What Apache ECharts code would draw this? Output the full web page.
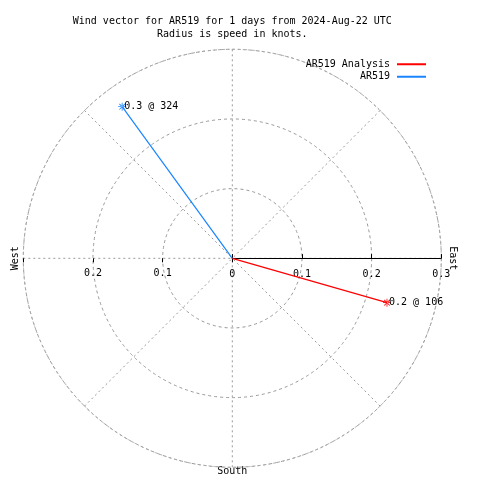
<!DOCTYPE html>
<html><head><meta charset="utf-8">
<script src="https://cdn.jsdelivr.net/npm/echarts@6/dist/echarts.min.js"></script>
<style>html,body{margin:0;padding:0;background:#fff}#c{width:480px;height:480px}</style>
</head><body><div id="c"></div>
<script>
var titleLines = ['Wind vector for AR519 for 1 days from 2024-Aug-22 UTC', 'Radius is speed in knots.'];
var seriesNames = ['AR519 Analysis', 'AR519'];
var speeds = [0.231, 0.269];        // knots
var directions = [106, 324];        // compass degrees
var seriesColors = ['#ff0000', '#1a84ff'];
var radiusTicks = [0, 0.1, 0.2, 0.3];
var compassLabels = ['East', 'South', 'West'];

var FONT = 'DejaVu Sans Mono';
var CX = 232.3, CY = 258.3, R = 209;
var star = 'path://M-5,-0.5L5,-0.5L5,0.5L-5,0.5Z M-0.5,-5L0.5,-5L0.5,5L-0.5,5Z M-3.85,-3.15L3.15,3.85L3.85,3.15L-3.15,-3.85Z M-3.85,3.15L-3.15,3.85L3.85,-3.15L3.15,-3.85Z';

function fmt(v){ return Math.abs(v) < 1e-9 ? '0' : (+v).toFixed(1); }
function fmtWest(v){ return (Math.abs(v) < 1e-9 || v > 0.25) ? '' : (+v).toFixed(1); }

var polarBase = {center:[CX, CY], radius: R};
function angleAx(idx, showGrid){
  return {polarIndex: idx, type:'value', startAngle: idx===1 ? 180 : 0, clockwise: true, min:0, max:360, interval:45,
    axisLine:{show: showGrid, lineStyle:{color:'#aaa', type:[2,3], width:1}},
    axisTick:{show:false}, axisLabel:{show:false},
    splitLine:{show: showGrid, lineStyle:{color:'#999', type:[2,3], width:1}}};
}
function radiusAx(idx, showLine, inside, labelFmt, margin){
  return {polarIndex: idx, type:'value', min: radiusTicks[0], max: radiusTicks[radiusTicks.length-1], interval: 0.1,
    axisLine:{show: showLine, lineStyle:{color:'#000', width:1.2}},
    axisTick:{show:true, inside: inside, length:4, lineStyle:{color:'#000', width:1}},
    axisLabel:{show: !!labelFmt, formatter: labelFmt || fmt, color:'#000', fontFamily: FONT, fontSize: 10, margin: margin},
    splitLine:{show: idx===0, lineStyle:{color:'#999', type:[3,3], width:1}}};
}

var series = seriesNames.map(function(name, i){
  return {
    name: name, type:'line', coordinateSystem:'polar', polarIndex:0,
    lineStyle:{color: seriesColors[i], width:1.2}, itemStyle:{color: seriesColors[i]},
    symbol: star, symbolSize: 8, showSymbol: true, animation:false, z: 5,
    data:[
      {value:[0, directions[i]-90], symbol:'none'},
      {value:[speeds[i], ((directions[i]-90)+360)%360],
       label:{show:true, position:'right', distance:-2, color:'#000', fontFamily: FONT, fontSize: 10,
              formatter: fmt(speeds[i]) + ' @ ' + directions[i]}}
    ]
  };
});

var chart = echarts.init(document.getElementById('c'), null, {renderer:'canvas'});
chart.setOption({
  animation:false,
  backgroundColor:'#fff',
  title:{text: titleLines.join('\n'), left: CX - 5, top: 10, textAlign:'center',
    textStyle:{fontFamily: FONT, fontSize: 10, fontWeight:'normal', color:'#000', lineHeight: 13}},
  legend:{orient:'vertical', right: 49, top: 53, align:'right', itemGap: 0, itemWidth: 29, itemHeight: 2,
    icon:'rect', data: seriesNames,
    textStyle:{fontFamily: FONT, fontSize: 10, color:'#000', lineHeight: 12.5, padding:[0,2,0,0]}},
  polar:[polarBase, polarBase, polarBase],
  angleAxis:[angleAx(0, true), angleAx(1, false), angleAx(2, false)],
  radiusAxis:[radiusAx(0, true, false, fmt, -21), radiusAx(1, false, false, fmtWest, 10), radiusAx(2, false, true, null, 10)],
  graphic:[
    {type:'text', x: CX + R + 11, y: CY, rotation: -Math.PI/2,
     style:{text: compassLabels[0], font: '10px ' + FONT, fill:'#000', textAlign:'center', textVerticalAlign:'middle'}},
    {type:'text', x: CX, y: CY + R + 4.5,
     style:{text: compassLabels[1], font: '10px ' + FONT, fill:'#000', textAlign:'center', textVerticalAlign:'middle'}},
    {type:'text', x: 15, y: CY, rotation: Math.PI/2,
     style:{text: compassLabels[2], font: '10px ' + FONT, fill:'#000', textAlign:'center', textVerticalAlign:'middle'}}
  ],
  series: series
});
</script></body></html>
